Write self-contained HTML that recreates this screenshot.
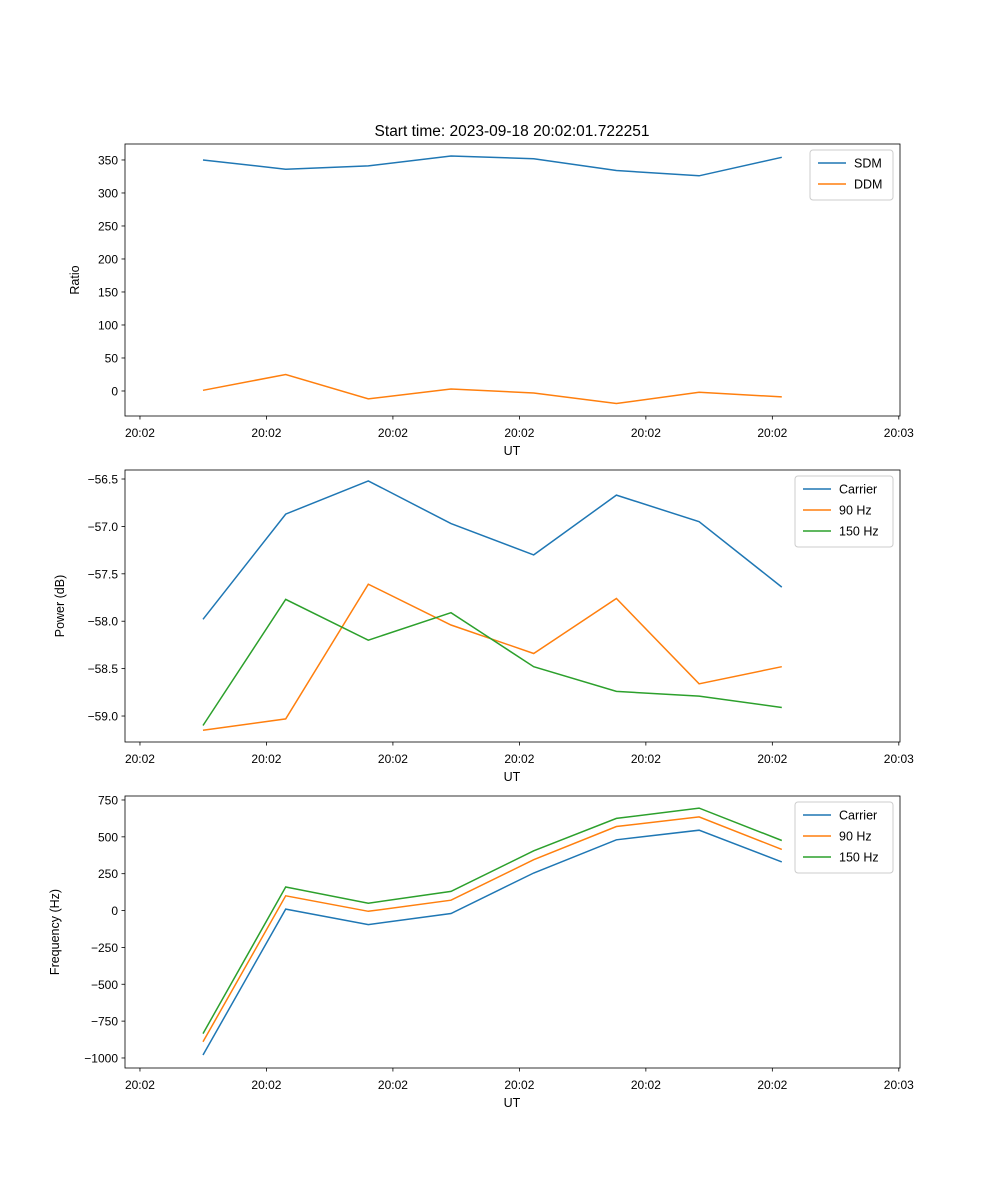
<!DOCTYPE html>
<html><head><meta charset="utf-8"><style>body{margin:0;background:#fff}svg{display:block;font-family:"Liberation Sans","DejaVu Sans",sans-serif}</style></head>
<body>
<svg id="fig" width="1000" height="1200" xmlns="http://www.w3.org/2000/svg">
<text x="512" y="136" font-size="15.5" text-anchor="middle">Start time: 2023-09-18 20:02:01.722251</text>
</svg>
<script>
const xIdx=[0,1,2,3,4,5,6,7];
const xTickLabels=["20:02","20:02","20:02","20:02","20:02","20:02","20:03"];
const sdm=[350,336,341,356,352,334,326,354];
const ddm=[1,25,-12,3,-3,-19,-2,-9];
const pCarrier=[-57.98,-56.87,-56.52,-56.97,-57.30,-56.67,-56.95,-57.64];
const p90=[-59.15,-59.03,-57.61,-58.04,-58.34,-57.76,-58.66,-58.48];
const p150=[-59.10,-57.77,-58.20,-57.91,-58.48,-58.74,-58.79,-58.91];
const fCarrier=[-980,10,-95,-20,255,480,545,330];
const f90=[-890,100,-5,70,345,570,635,415];
const f150=[-835,160,50,130,405,625,695,475];
const ratioTicks=[0,50,100,150,200,250,300,350];
const powerTicks=[-59.0,-58.5,-58.0,-57.5,-57.0,-56.5];
const freqTicks=[-1000,-750,-500,-250,0,250,500,750];

const NS="http://www.w3.org/2000/svg";
const svg=document.getElementById('fig');
function el(tag,attrs,parent){const e=document.createElementNS(NS,tag);for(const k in attrs)e.setAttribute(k,attrs[k]);(parent||svg).appendChild(e);return e;}
const L=125,R=900;
const xmin=-0.943,xmax=8.43;
const xs=v=>L+(v-xmin)/(xmax-xmin)*(R-L);
const tick0=-0.762,tickStep=1.5296;
const colors=["#1f77b4","#ff7f0e","#2ca02c"];

function panel(name,top,bot,ymin,ymax,yTicks,fmt,ylabel,ylabelX,series,names,legX,legW){
  const g=el('g',{});
  
  
  const ys=v=>bot-(v-ymin)/(ymax-ymin)*(bot-top);
  yTicks.forEach(t=>{
    const y=ys(t);
    el('line',{x1:L-3.5,x2:L,y1:y,y2:y,stroke:'#000','stroke-width':0.8},g);
    const tx=el('text',{x:L-7,y:y+4.5,'font-size':12,'text-anchor':'end'},g);
    tx.textContent=fmt(t).replace('-','\u2212');
    
    
  });
  xTickLabels.forEach((lab,i)=>{
    const x=xs(tick0+i*tickStep);
    el('line',{x1:x,x2:x,y1:bot,y2:bot+3.5,stroke:'#000','stroke-width':0.8},g);
    const tx=el('text',{x:x,y:bot+21,'font-size':12,'text-anchor':'middle'},g);
    tx.textContent=lab;
    
    
  });
  const xl=el('text',{x:512,y:bot+39,'font-size':12.5,'text-anchor':'middle'},g);
  xl.textContent='UT';
  
  
  const yl=el('text',{x:0,y:0,'font-size':12.5,'text-anchor':'middle',transform:`translate(${ylabelX},${(top+bot)/2}) rotate(-90)`},g);
  yl.textContent=ylabel;
  
  
  series.forEach((s,k)=>{
    const pts=s.map((v,i)=>xs(xIdx[i]).toFixed(1)+','+ys(v).toFixed(1)).join(' ');
    const pl=el('polyline',{points:pts,fill:'none',stroke:colors[k],'stroke-width':1.5},g);
    
    
  });
  el('rect',{x:L,y:top,width:R-L,height:bot-top,fill:'none',stroke:'#000','stroke-width':0.8},g);
  const lg=el('g',{},g);
  
  
  el('rect',{x:legX,y:top+6,width:legW,height:8+names.length*21,fill:'#fff',stroke:'#ccc','stroke-width':1,rx:3},lg);
  names.forEach((n,k)=>{
    const y=top+19+k*21;
    el('line',{x1:legX+8,x2:legX+36,y1:y,y2:y,stroke:colors[k],'stroke-width':1.5},lg);
    const t=el('text',{x:legX+44,y:y+4.5,'font-size':12.5},lg);
    t.textContent=n;
    
    
  });
}
panel('ratio-panel',144,416,-37.9,374.2,ratioTicks,v=>String(v),'Ratio',79,[sdm,ddm],['SDM','DDM'],810,83);
panel('power-panel',470,742,-59.274,-56.405,powerTicks,v=>v.toFixed(1),'Power (dB)',64,[pCarrier,p90,p150],['Carrier','90 Hz','150 Hz'],795,98);
panel('frequency-panel',796,1068,-1068,777,freqTicks,v=>String(v),'Frequency (Hz)',59,[fCarrier,f90,f150],['Carrier','90 Hz','150 Hz'],795,98);
</script>
</body></html>
